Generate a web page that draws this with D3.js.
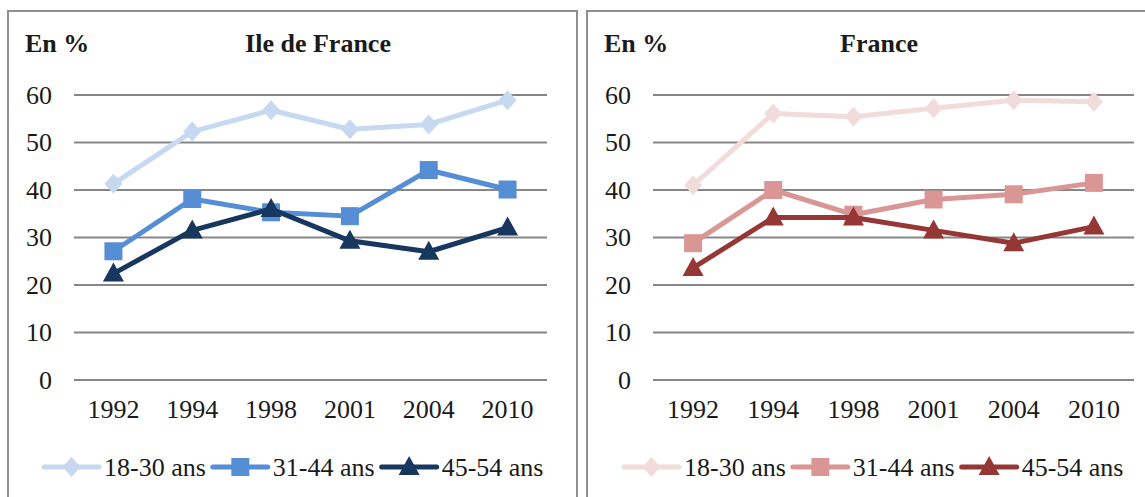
<!DOCTYPE html>
<html>
<head>
<meta charset="utf-8">
<script src="https://cdn.jsdelivr.net/npm/d3@7"></script>
<style>
  html, body { margin: 0; padding: 0; background: #fff; }
  svg { display: block; }
</style>
</head>
<body>
<svg id="chart" width="1145" height="497"></svg>
<script>
// Survey years (x categories)
const years = ["1992", "1994", "1998", "2001", "2004", "2010"];
const yTicks = [0, 10, 20, 30, 40, 50, 60];
const seriesNames = ["18-30 ans", "31-44 ans", "45-54 ans"];

// Ile de France, share in %
const idf1830 = [41.3, 52.3, 56.8, 52.8, 53.8, 58.9];
const idf3144 = [27.1, 38.1, 35.3, 34.5, 44.2, 40.1];
const idf4554 = [22.4, 31.5, 36.0, 29.3, 27.0, 32.1];

// France, share in %
const fr1830 = [41.0, 56.1, 55.4, 57.2, 58.9, 58.6];
const fr3144 = [28.8, 40.0, 34.8, 38.0, 39.1, 41.5];
const fr4554 = [23.6, 34.2, 34.2, 31.5, 28.8, 32.3];

const blueColors = ["#c6d9f1", "#558ed5", "#17375e"];
const redColors = ["#f2dcdb", "#d99694", "#953735"];
const shapes = ["diamond", "square", "triangle"];

const FONT = "'Liberation Serif', 'Times New Roman', Times, 'DejaVu Serif', serif";

const svg = d3.select("#chart");

function markerPath(shape) {
  if (shape === "diamond") return "M0,-10L9,0L0,10L-9,0Z";
  if (shape === "square") return "M-9,-9H9V9H-9Z";
  return "M0,-11L10.5,8H-10.5Z";
}

function styleText(sel, size, weight) {
  sel.style("font-family", FONT)
    .style("font-size", size + "px")
    .style("font-weight", weight || "normal")
    .style("fill", "#1a1a1a");
}

function drawPanel(cfg) {
  const g = svg.append("g");

  // panel frame
  g.append("rect")
    .attr("x", cfg.frame[0]).attr("y", 11)
    .attr("width", cfg.frame[1] - cfg.frame[0]).attr("height", 520)
    .attr("fill", "none").attr("stroke", "#8f8f8f").attr("stroke-width", 2);

  const x = d3.scaleBand().domain(years).range(cfg.xRange);
  const y = d3.scaleLinear().domain([0, 60]).range([380, 95]);

  // horizontal grid lines
  g.selectAll("line.grid").data(yTicks).join("line")
    .attr("class", "grid")
    .attr("x1", cfg.xRange[0]).attr("x2", cfg.xRange[1])
    .attr("y1", d => y(d)).attr("y2", d => y(d))
    .attr("stroke", "#878787").attr("stroke-width", 2);

  // y axis labels
  const yAxis = d3.axisLeft(y).tickValues(yTicks).tickSize(0).tickPadding(0);
  const ya = g.append("g").attr("transform", `translate(${cfg.xRange[0] - 22},0)`).call(yAxis);
  ya.select(".domain").remove();
  styleText(ya.selectAll("text"), 26);

  // x axis labels
  const xAxis = d3.axisBottom(x).tickSize(0).tickPadding(0);
  const xa = g.append("g").attr("transform", "translate(0,400)").call(xAxis);
  xa.select(".domain").remove();
  styleText(xa.selectAll("text"), 26);

  // titles
  styleText(g.append("text").attr("x", cfg.unitX).attr("y", 52).text("En %"), 26, "bold");
  styleText(g.append("text").attr("x", cfg.titleX).attr("y", 52)
    .attr("text-anchor", "middle").text(cfg.title), 26, "bold");

  const line = d3.line()
    .x((d, i) => x(years[i]) + x.bandwidth() / 2)
    .y(d => y(d));

  cfg.series.forEach((vals, k) => {
    g.append("path").datum(vals)
      .attr("d", line).attr("fill", "none")
      .attr("stroke", cfg.colors[k]).attr("stroke-width", 5)
      .attr("stroke-linejoin", "round");
    g.selectAll(null).data(vals).join("path")
      .attr("transform", (d, i) => `translate(${x(years[i]) + x.bandwidth() / 2},${y(d)})`)
      .attr("d", markerPath(shapes[k]))
      .attr("fill", cfg.colors[k]);
  });

  // legend
  const lg = g.append("g").attr("transform", `translate(${cfg.legendX},467)`);
  let cx = 0;
  seriesNames.forEach((name, k) => {
    const item = lg.append("g").attr("transform", `translate(${cx},0)`);
    item.append("line").attr("x1", 0).attr("x2", 55).attr("y1", 0).attr("y2", 0)
      .attr("stroke", cfg.colors[k]).attr("stroke-width", 5).attr("stroke-linecap", "round");
    item.append("path").attr("transform", "translate(27.5,0)")
      .attr("d", markerPath(shapes[k])).attr("fill", cfg.colors[k]);
    const t = item.append("text").attr("x", 60).attr("y", 9).text(name);
    styleText(t, 26);
    cx += 60 + t.node().getComputedTextLength() + 7;
  });
}

drawPanel({
  title: "Ile de France",
  frame: [8, 577],
  xRange: [74, 547],
  unitX: 25,
  titleX: 318,
  legendX: 44,
  colors: blueColors,
  series: [idf1830, idf3144, idf4554]
});

drawPanel({
  title: "France",
  frame: [587, 1160],
  xRange: [653, 1134],
  unitX: 604,
  titleX: 879,
  legendX: 624,
  colors: redColors,
  series: [fr1830, fr3144, fr4554]
});
</script>
</body>
</html>
